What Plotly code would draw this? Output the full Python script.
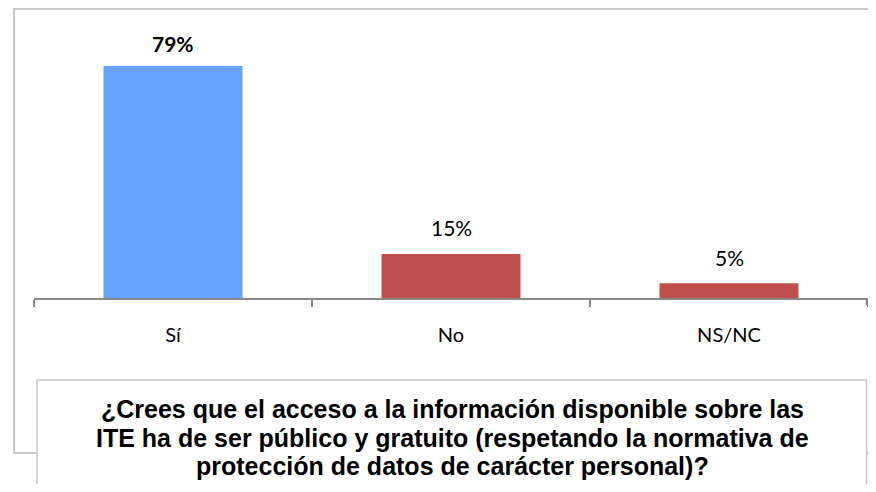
import plotly.graph_objects as go

categories = ['Sí', 'No', 'NS/NC']
values = [79, 15, 5]
labels = ['79%', '15%', '5%']
bar_colors = ['#66A3FF', '#C0504D', '#C0504D']
title_lines = [
    '¿Crees que el acceso a la información disponible sobre las',
    'ITE ha de ser público y gratuito (respetando la normativa de',
    'protección de datos de carácter personal)?',
]

# la página añade 8px de margen por cada lado; la figura se ajusta para no provocar scroll
OFF = 8
W, H = 876 - 2 * OFF, 492 - 2 * OFF
L, R, T, B = 34 - OFF, 0, 9 - OFF, 186
plot_w = W - L - R
plot_h = H - T - B


def px(x):
    return (x - OFF - L) / plot_w


def py(y):
    return (H - B - (y - OFF)) / plot_h


fig = go.Figure()

fig.add_trace(go.Bar(
    x=categories,
    y=values,
    marker_color=bar_colors,
    marker_line_width=0,
    width=0.5,
    hoverinfo='skip',
))

# etiquetas de datos
for i, (cat, val, lab) in enumerate(zip(categories, values, labels)):
    fig.add_annotation(
        x=cat, y=val, text=f'<b>{lab}</b>' if i == 0 else lab,
        showarrow=False, yanchor='middle', yshift=26 if i else 22,
        font=dict(family='Lato, Open Sans, sans-serif', size=21, color='black'),
    )

# marco exterior y caja del título
fig.add_shape(type='rect', xref='paper', yref='paper',
              x0=px(14), x1=px(890), y0=py(453), y1=py(9),
              line=dict(color='#C8C8C8', width=2), fillcolor='rgba(0,0,0,0)',
              layer='below')
# última marca del eje (tickson='boundaries' no la dibuja)
fig.add_shape(type='line', xref='paper', yref='paper',
              x0=px(866.5), x1=px(866.5), y0=0, y1=py(305),
              line=dict(color='#888888', width=1.5))
fig.add_shape(type='rect', xref='paper', yref='paper',
              x0=px(37), x1=px(866.5), y0=py(510), y1=py(380),
              line=dict(color='#C8C8C8', width=1.5), fillcolor='white')

for k, line in enumerate(title_lines):
    fig.add_annotation(
        xref='paper', yref='paper', x=px(452), y=py(409 + k * 28.5),
        text=f'<b>{line}</b>', showarrow=False, xanchor='center', yanchor='middle',
        font=dict(family='Liberation Sans, Arial', size=25, color='black'),
    )

fig.update_layout(
    width=W, height=H,
    margin=dict(l=L, r=R, t=T, b=B),
    plot_bgcolor='white',
    paper_bgcolor='white',
    showlegend=False,
    font={'family': 'Lato, Open Sans, sans-serif', 'color': 'black'},
)

fig.update_xaxes(
    type='category',
    range=[-0.5, 2.5],
    showline=True,
    linecolor='#888888',
    linewidth=1.5,
    ticks='outside',
    tickson='boundaries',
    ticklen=7,
    tickcolor='#888888',
    tickwidth=1.5,
    showgrid=False,
    ticklabelstandoff=18,
    tickfont=dict(family='Lato, Open Sans, sans-serif', size=20, color='black'),
)
fig.update_yaxes(
    range=[0, plot_h / 2.937],
    visible=False,
    showgrid=False,
    zeroline=False,
)

fig.write_html('out.html')
